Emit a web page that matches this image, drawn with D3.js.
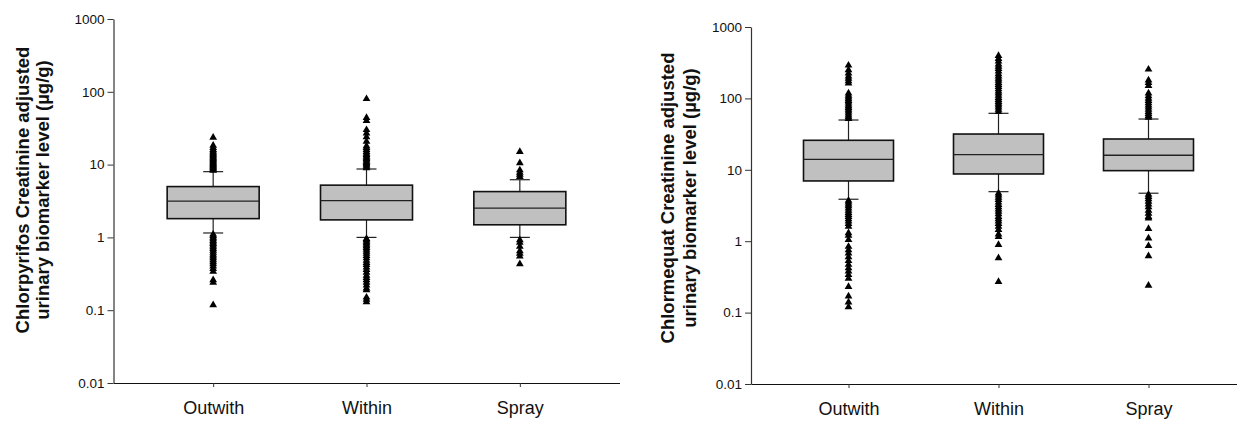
<!DOCTYPE html>
<html>
<head>
<meta charset="utf-8">
<script src="https://cdn.jsdelivr.net/npm/d3@7"></script>
<style>
  html, body { margin: 0; padding: 0; background: #fff; }
  svg { display: block; }
  text { font-family: Arial, "Liberation Sans", sans-serif; }
</style>
</head>
<body>
<svg id="chart" width="1237" height="421"></svg>
<script>
// ---------- data ----------
const categories = ["Outwith", "Within", "Spray"];
const yTicks = [0.01, 0.1, 1, 10, 100, 1000];
const yTickLabels = ["0.01", "0.1", "1", "10", "100", "1000"];

const titleChlorpyrifos = ["Chlorpyrifos Creatinine adjusted", "urinary biomarker level (\u00B5g/g)"];
const titleChlormequat = ["Chlormequat Creatinine adjusted", "urinary biomarker level (\u00B5g/g)"];

// Chlorpyrifos box statistics (Outwith, Within, Spray)
const chlorQ1 = [1.81, 1.74, 1.49];
const chlorMedian = [3.15, 3.2, 2.52];
const chlorQ3 = [4.99, 5.22, 4.26];
const chlorWhiskerLow = [1.15, 1.0, 1.0];
const chlorWhiskerHigh = [8.0, 8.7, 6.2];

const chlorOutwithOutliers = [8.3, 8.6, 8.9, 9.2, 9.5, 9.8, 10.1, 10.4, 10.8, 11.2, 11.6, 12.0, 12.5, 13.0, 13.5, 14.0, 14.6, 15.2, 16.0, 17.0, 18.3, 23.5,
  1.1, 1.05, 1.0, 0.95, 0.9, 0.86, 0.82, 0.78, 0.74, 0.7, 0.66, 0.62, 0.58, 0.55, 0.52, 0.49, 0.46, 0.43, 0.4, 0.37, 0.34, 0.26, 0.24, 0.118];
const chlorWithinOutliers = [9.0, 9.4, 9.8, 10.2, 10.6, 11.0, 11.5, 12.0, 12.5, 13.0, 13.6, 14.2, 15.0, 16.0, 17.0, 18.0, 20.7, 24.0, 27.0, 30.0, 40.0, 44.0, 80.0,
  0.96, 0.92, 0.88, 0.84, 0.8, 0.76, 0.72, 0.68, 0.64, 0.6, 0.56, 0.52, 0.48, 0.45, 0.42, 0.39, 0.36, 0.33, 0.3, 0.28, 0.26, 0.24, 0.22, 0.2, 0.19, 0.15, 0.14, 0.13];
const chlorSprayOutliers = [6.8, 7.3, 7.8, 8.4, 10.5, 15.0, 0.92, 0.85, 0.75, 0.65, 0.6, 0.55, 0.43];

// Chlormequat box statistics (Outwith, Within, Spray)
const chlormQ1 = [6.98, 8.74, 9.73];
const chlormMedian = [14.0, 16.3, 16.0];
const chlormQ3 = [25.9, 31.7, 27.0];
const chlormWhiskerLow = [3.87, 4.94, 4.70];
const chlormWhiskerHigh = [49.8, 61.8, 51.4];

const chlormOutwithOutliers = [52, 55, 58, 62, 66, 70, 74, 78, 83, 88, 93, 98, 104, 110, 118, 163, 175, 190, 205, 225, 250, 290,
  3.7, 3.5, 3.3, 3.1, 2.9, 2.7, 2.5, 2.35, 2.2, 2.05, 1.9, 1.75, 1.6, 1.3, 1.2, 1.05, 0.84, 0.75, 0.68, 0.6, 0.53, 0.47, 0.42, 0.38, 0.34, 0.3, 0.23, 0.17, 0.14, 0.12];
const chlormWithinOutliers = [65, 70, 75, 80, 85, 90, 96, 102, 110, 118, 126, 135, 145, 155, 165, 178, 190, 205, 220, 240, 260, 280, 300, 330, 360, 395,
  4.7, 4.4, 4.1, 3.8, 3.5, 3.25, 3.0, 2.8, 2.6, 2.4, 2.2, 2.05, 1.9, 1.75, 1.6, 1.45, 1.25, 1.15, 0.89, 0.58, 0.27];
const chlormSprayOutliers = [54, 57, 61, 65, 70, 75, 80, 86, 93, 100, 108, 118, 150, 165, 180, 255,
  4.5, 4.2, 3.9, 3.6, 3.3, 3.0, 2.7, 2.45, 2.2, 2.1, 1.49, 1.1, 0.86, 0.62, 0.24];

// ---------- build panel tables ----------
function buildBoxes(q1, med, q3, wl, wh, outs) {
  return categories.map((c, i) => ({ cat: c, q1: q1[i], median: med[i], q3: q3[i], wLow: wl[i], wHigh: wh[i], outliers: outs[i] }));
}

const panels = [
  {
    boxes: buildBoxes(chlorQ1, chlorMedian, chlorQ3, chlorWhiskerLow, chlorWhiskerHigh,
      [chlorOutwithOutliers, chlorWithinOutliers, chlorSprayOutliers]),
    title: titleChlorpyrifos,
    x0: 113.5, x1: 619.5, yTop: 19, yBottom: 383, titleX: [22, 42], titleY: 190
  },
  {
    boxes: buildBoxes(chlormQ1, chlormMedian, chlormQ3, chlormWhiskerLow, chlormWhiskerHigh,
      [chlormOutwithOutliers, chlormWithinOutliers, chlormSprayOutliers]),
    title: titleChlormequat,
    x0: 751, x1: 1246, yTop: 27, yBottom: 384, titleX: [667, 689], titleY: 198
  }
];

const svg = d3.select("#chart");
const tri = d3.symbol().type(d3.symbolTriangle).size(26);

panels.forEach(p => {
  const g = svg.append("g");
  const y = d3.scaleLog().domain([0.01, 1000]).range([p.yBottom, p.yTop]);
  const x = d3.scalePoint().domain(categories).range([p.x0, p.x1]).padding(0.65);
  const boxW = x.step() * 0.6;
  const capW = 20;

  // boxes
  const bg = g.selectAll("g.box").data(p.boxes).join("g").attr("class", "box");
  bg.append("line")
    .attr("x1", d => x(d.cat)).attr("x2", d => x(d.cat))
    .attr("y1", d => y(d.wHigh)).attr("y2", d => y(d.q3))
    .attr("stroke", "#222").attr("stroke-width", 1.2);
  bg.append("line")
    .attr("x1", d => x(d.cat)).attr("x2", d => x(d.cat))
    .attr("y1", d => y(d.q1)).attr("y2", d => y(d.wLow))
    .attr("stroke", "#222").attr("stroke-width", 1.2);
  bg.append("line")
    .attr("x1", d => x(d.cat) - capW / 2).attr("x2", d => x(d.cat) + capW / 2)
    .attr("y1", d => y(d.wHigh)).attr("y2", d => y(d.wHigh))
    .attr("stroke", "#222").attr("stroke-width", 1.2);
  bg.append("line")
    .attr("x1", d => x(d.cat) - capW / 2).attr("x2", d => x(d.cat) + capW / 2)
    .attr("y1", d => y(d.wLow)).attr("y2", d => y(d.wLow))
    .attr("stroke", "#222").attr("stroke-width", 1.2);
  bg.append("rect")
    .attr("x", d => x(d.cat) - boxW / 2).attr("width", boxW)
    .attr("y", d => y(d.q3)).attr("height", d => y(d.q1) - y(d.q3))
    .attr("fill", "#c0c0c0").attr("stroke", "#111").attr("stroke-width", 1.6);
  bg.append("line")
    .attr("x1", d => x(d.cat) - boxW / 2).attr("x2", d => x(d.cat) + boxW / 2)
    .attr("y1", d => y(d.median)).attr("y2", d => y(d.median))
    .attr("stroke", "#222").attr("stroke-width", 1.3);

  // outliers
  bg.selectAll("path.out").data(d => d.outliers.map(v => ({ cat: d.cat, v })))
    .join("path").attr("class", "out")
    .attr("d", tri)
    .attr("transform", d => `translate(${x(d.cat)},${y(d.v)})`)
    .attr("fill", "#000");

  // axes
  const yAxis = d3.axisLeft(y).tickValues(yTicks)
    .tickFormat((d, i) => yTickLabels[i]).tickSize(6).tickSizeOuter(0).tickPadding(3);
  const ya = g.append("g").attr("transform", `translate(${p.x0},0)`).call(yAxis);
  ya.select(".domain").attr("stroke", "#333").attr("stroke-width", 1.2);
  ya.selectAll(".tick line").attr("stroke", "#333");
  ya.selectAll("text").attr("font-size", 13.5).attr("fill", "#111")
    .attr("font-family", "Arial, 'Liberation Sans', sans-serif");

  const xAxis = d3.axisBottom(x).tickSize(4).tickSizeOuter(0).tickPadding(14);
  const xa = g.append("g").attr("transform", `translate(0,${p.yBottom})`).call(xAxis);
  xa.select(".domain").attr("stroke", "#111").attr("stroke-width", 1.2);
  xa.selectAll(".tick line").attr("stroke", "#333");
  xa.selectAll("text").attr("font-size", 18).attr("fill", "#111")
    .attr("font-family", "Arial, 'Liberation Sans', sans-serif");

  // title (rotated)
  p.title.forEach((t, i) => {
    svg.append("text")
      .attr("transform", `translate(${p.titleX[i]},${p.titleY}) rotate(-90)`)
      .attr("text-anchor", "middle")
      .attr("dominant-baseline", "central")
      .attr("font-size", 18.5).attr("font-weight", "bold").attr("fill", "#111")
      .text(t);
  });
});
</script>
</body>
</html>
